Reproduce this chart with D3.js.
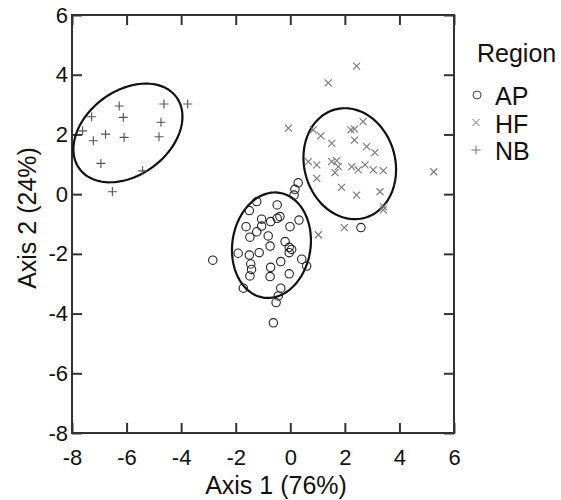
<!DOCTYPE html>
<html>
<head>
<meta charset="utf-8">
<title>Ordination</title>
<script src="https://d3js.org/d3.v7.min.js"></script>
<style>
  body { margin: 0; background: #fff; }
  text { font-family: "Liberation Sans", Arial, sans-serif; fill: #111; }
</style>
</head>
<body>
<svg id="chart" width="561" height="500"></svg>
<script>
// axis ticks
var xTicks = [-8, -6, -4, -2, 0, 2, 4, 6];
var yTicks = [-8, -6, -4, -2, 0, 2, 4, 6];
var regions = ["AP", "HF", "NB"];

// AP (open circles)
var apX = [0.29, 0.17, 0.14, -1.23, -1.50, -0.48, -0.38, -0.72, -1.05, -1.05, -1.23, -1.62, -1.48, -0.01, 0.32,
           -0.81, -0.74, -0.19, -0.04, -2.84, -1.91, -1.50, -1.14, -0.04, 0.05, 0.42, 0.60, -1.45, -1.42, -1.48,
           -0.72, -0.74, -0.35, -0.04, -1.72, -0.35, -0.44, -0.52, -0.62, 2.59, -0.48];
var apY = [0.38, 0.16, -0.03, -0.25, -0.55, -0.36, -0.75, -0.92, -0.84, -1.07, -1.26, -1.09, -1.44, -1.09, -0.87,
           -1.40, -1.74, -1.59, -1.78, -2.21, -1.98, -2.04, -1.96, -1.96, -1.85, -2.18, -2.41, -2.34, -2.52, -2.74,
           -2.45, -2.76, -2.26, -2.67, -3.15, -3.15, -3.41, -3.63, -4.31, -1.12, -0.81];

// HF (x marks)
var hfX = [2.43, 1.39, -0.07, 5.26, 3.41, 1.98, 1.03, 0.84, 1.12, 2.22, 2.35, 2.35, 1.52, 2.80, 2.67, 3.10,
           0.66, 0.97, 1.52, 1.70, 1.76, 1.64, 2.25, 2.49, 2.74, 3.04, 3.41, 0.97, 1.88, 2.43, 3.29, 3.41];
var hfY = [4.29, 3.73, 2.21, 0.75, -0.53, -1.12, -1.36, 2.15, 1.95, 2.15, 2.18, 1.81, 1.70, 1.59, 2.43, 1.39,
           1.09, 0.98, 1.09, 1.12, 0.92, 0.72, 0.92, 0.81, 0.98, 0.81, 0.79, 0.53, 0.23, -0.03, 0.08, -0.42];

// NB (plus marks)
var nbX = [-7.28, -6.27, -6.12, -4.63, -4.74, -6.77, -7.22, -6.09, -4.81, -7.61, -6.94, -5.41, -6.52, -3.76];
var nbY = [2.59, 2.95, 2.57, 3.02, 2.41, 2.01, 1.79, 1.90, 1.92, 2.12, 1.03, 0.78, 0.08, 3.02];

// confidence ellipses: centre, semi-axes (axis units), rotation (deg)
var ellCx = [-0.69, 2.18, -5.95];
var ellCy = [-1.71, 1.02, 2.05];
var ellA = [1.78, 1.9, 2.15];
var ellB = [1.43, 1.65, 1.45];
var ellRot = [78, 115, 30];

var svg = d3.select("#chart");
var pL = 72, pR = 454, pT = 15, pB = 433;

var x = d3.scaleLinear().domain([-8, 6]).range([pL, pR]);
var y = d3.scaleLinear().domain([-8, 6]).range([pB, pT]);
var fmt = function (d) { return String(d); };

// frame
svg.append("rect")
  .attr("x", pL).attr("y", pT)
  .attr("width", pR - pL).attr("height", pB - pT)
  .attr("fill", "none").attr("stroke", "#333").attr("stroke-width", 2);

// ticks pointing inward on all four sides
var tl = 10;
var gB = svg.append("g").attr("transform", "translate(0," + pB + ")")
  .call(d3.axisBottom(x).tickValues(xTicks).tickSize(-tl).tickPadding(16).tickFormat(fmt));
var gT = svg.append("g").attr("transform", "translate(0," + pT + ")")
  .call(d3.axisTop(x).tickValues(xTicks).tickSize(-tl).tickFormat(""));
var gL = svg.append("g").attr("transform", "translate(" + pL + ",0)")
  .call(d3.axisLeft(y).tickValues(yTicks).tickSize(-tl).tickPadding(4).tickFormat(fmt));
var gR = svg.append("g").attr("transform", "translate(" + pR + ",0)")
  .call(d3.axisRight(y).tickValues(yTicks).tickSize(-tl).tickFormat(""));

[gB, gT, gL, gR].forEach(function (g) {
  g.select(".domain").remove();
  g.selectAll(".tick line").attr("stroke", "#333").attr("stroke-width", 2);
  g.selectAll(".tick text").attr("font-size", 22).attr("fill", "#111")
    .style("font-family", "Liberation Sans, Arial, sans-serif");
});

// axis titles
svg.append("text").attr("x", 276).attr("y", 494)
  .attr("text-anchor", "middle").attr("font-size", 25).text("Axis 1 (76%)");
svg.append("text")
  .attr("transform", "translate(36,218) rotate(-90)")
  .attr("text-anchor", "middle").attr("font-size", 25).text("Axis 2 (24%)");

// ellipses
var line = d3.line().curve(d3.curveLinearClosed);
ellCx.forEach(function (cx, i) {
  var th = ellRot[i] * Math.PI / 180;
  var pts = d3.range(0, 360, 3).map(function (deg) {
    var t = deg * Math.PI / 180;
    var ex = ellA[i] * Math.cos(t), ey = ellB[i] * Math.sin(t);
    return [x(cx + ex * Math.cos(th) - ey * Math.sin(th)),
            y(ellCy[i] + ex * Math.sin(th) + ey * Math.cos(th))];
  });
  svg.append("path").attr("d", line(pts))
    .attr("fill", "none").attr("stroke", "#111").attr("stroke-width", 2.2);
});

// points
var ap = apX.map(function (v, i) { return [v, apY[i]]; });
var hf = hfX.map(function (v, i) { return [v, hfY[i]]; });
var nb = nbX.map(function (v, i) { return [v, nbY[i]]; });

svg.append("g").selectAll("circle").data(ap).join("circle")
  .attr("cx", function (d) { return x(d[0]); })
  .attr("cy", function (d) { return y(d[1]); })
  .attr("r", 4.2)
  .attr("fill", "none").attr("stroke", "#222").attr("stroke-width", 1.1);

var xs = "M-3.5,-3.5L3.5,3.5M-3.5,3.5L3.5,-3.5";
var ps = "M-4.5,0L4.5,0M0,-4.5L0,4.5";

svg.append("g").selectAll("path").data(hf).join("path")
  .attr("transform", function (d) { return "translate(" + x(d[0]) + "," + y(d[1]) + ")"; })
  .attr("d", xs).attr("stroke", "#777").attr("stroke-width", 1.1).attr("fill", "none");

svg.append("g").selectAll("path").data(nb).join("path")
  .attr("transform", function (d) { return "translate(" + x(d[0]) + "," + y(d[1]) + ")"; })
  .attr("d", ps).attr("stroke", "#555").attr("stroke-width", 1.1).attr("fill", "none");

// legend
var lg = svg.append("g");
lg.append("text").attr("x", 477).attr("y", 62).attr("font-size", 25).text("Region");
var ly = d3.scalePoint().domain(regions).range([105, 160]);
regions.forEach(function (r) {
  var base = ly(r), cy = base - 10;
  if (r === "AP") {
    lg.append("circle").attr("cx", 477).attr("cy", cy).attr("r", 4)
      .attr("fill", "none").attr("stroke", "#444").attr("stroke-width", 1);
  } else {
    lg.append("path").attr("transform", "translate(476," + cy + ")")
      .attr("d", r === "HF" ? xs : ps).attr("stroke", "#777").attr("stroke-width", 1).attr("fill", "none");
  }
  lg.append("text").attr("x", 495).attr("y", base).attr("font-size", 25).text(r);
});
</script>
</body>
</html>
